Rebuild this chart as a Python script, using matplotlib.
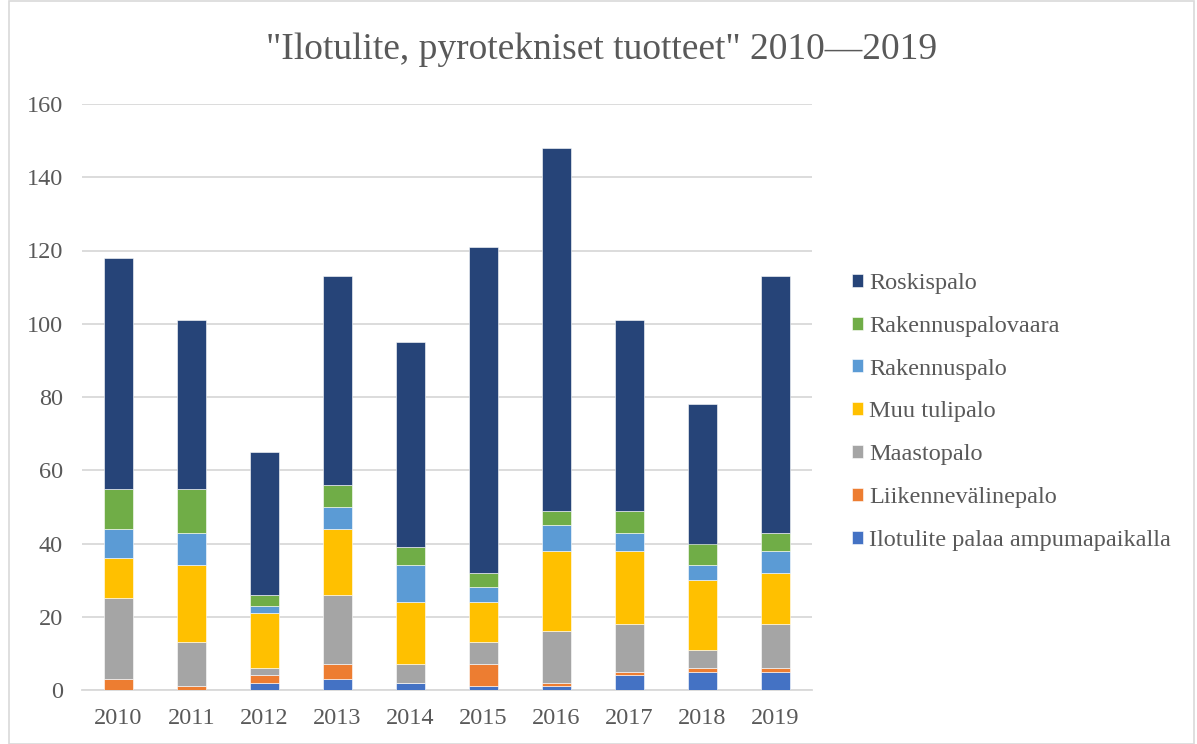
import matplotlib
matplotlib.use("Agg")
import matplotlib.pyplot as plt
from matplotlib.patches import Rectangle
import numpy as np

years = ["2010", "2011", "2012", "2013", "2014", "2015", "2016", "2017", "2018", "2019"]
ilotulite = [0, 0, 2, 3, 2, 1, 1, 4, 5, 5]
liikenne = [3, 1, 2, 4, 0, 6, 1, 1, 1, 1]
maasto = [22, 12, 2, 19, 5, 6, 14, 13, 5, 12]
muu = [11, 21, 15, 18, 17, 11, 22, 20, 19, 14]
rakennus = [8, 9, 2, 6, 10, 4, 7, 5, 4, 6]
rakennusvaara = [11, 12, 3, 6, 5, 4, 4, 6, 6, 5]
roskis = [63, 46, 39, 57, 56, 89, 99, 52, 38, 70]

series_names = ["Ilotulite palaa ampumapaikalla", "Liikennevälinepalo", "Maastopalo",
                "Muu tulipalo", "Rakennuspalo", "Rakennuspalovaara", "Roskispalo"]
series_vals = [ilotulite, liikenne, maasto, muu, rakennus, rakennusvaara, roskis]
colors = ["#4472C4", "#ED7D31", "#A5A5A5", "#FFC000", "#5B9BD5", "#70AD47", "#264478"]

plt.rcParams['font.family'] = ['Liberation Serif', 'DejaVu Serif']
text_color = "#595959"

fig = plt.figure(figsize=(11.97, 7.44), dpi=100)
ax = fig.add_axes([82/1197, 1-690/744, (812-82)/1197, (690-104)/744])

x = np.arange(len(years))
bottom = np.zeros(len(years))
handles = []
for name, vals, c in zip(series_names, series_vals, colors):
    v = np.array(vals, dtype=float)
    b = ax.bar(x, v, 0.4, bottom=bottom, color=c, label=name,
               edgecolor="white", linewidth=0.4, zorder=3)
    handles.append(b)
    bottom += v

ax.set_xlim(-0.5, len(years) - 0.5)
ax.set_ylim(0, 160)
ax.set_yticks(np.arange(0, 161, 20))
ax.set_xticks(x)
ax.set_xticklabels(years)
ax.tick_params(axis='both', length=0, labelsize=17.5, colors=text_color)
ax.tick_params(axis='y', pad=13.7)
ax.tick_params(axis='x', pad=13)
ax.grid(axis='y', color="#D9D9D9", linewidth=1.3, zorder=0)
for s in ["top", "right", "left"]:
    ax.spines[s].set_visible(False)
ax.spines["bottom"].set_color("#D9D9D9")
ax.spines["bottom"].set_linewidth(1.3)

fig.text(602/1197, 1-50/744, '"Ilotulite, pyrotekniset tuotteet" 2010—2019',
         ha='center', va='center', fontsize=27, color=text_color)

leg = fig.legend(handles[::-1], series_names[::-1], loc='center left',
                 bbox_to_anchor=(830/1197, 1-412/744), frameon=False,
                 fontsize=17.5, labelspacing=0.9, handlelength=0.45, handleheight=0.45,
                 handletextpad=0.25, labelcolor=text_color)

fig.patches.append(Rectangle((9/1197, 0.0), (1194-9)/1197, 0.999, transform=fig.transFigure,
                             fill=False, edgecolor="#D9D9D9", linewidth=1.2))

fig.savefig("out.png", dpi=100)
